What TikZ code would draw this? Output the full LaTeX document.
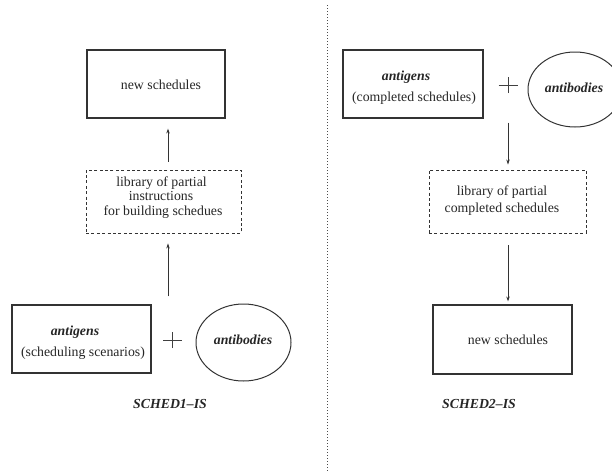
\documentclass[tikz,border=0pt]{standalone}
\usepackage{fontspec}
\setmainfont{Liberation Serif}
\usetikzlibrary{arrows.meta,shapes.geometric}

\tikzset{
  ink/.style={black!85},
  solidbox/.style={draw=black!80, line width=1.1pt, rectangle, inner sep=0pt},
  libbox/.style={draw=black!80, line width=0.9pt, dash pattern=on 3pt off 2.4pt, rectangle, inner sep=0pt},
  bodies/.style={draw=black!80, line width=1pt, ellipse, inner sep=0pt},
  txt/.style={inner sep=0pt, text=black!85, font=\fontsize{13.8}{16}\selectfont},
  btxt/.style={txt, font=\fontsize{13.8}{16}\selectfont\bfseries\itshape},
  flow/.style={draw=black!80, line width=0.8pt, -{Stealth[length=5pt,width=3.4pt]}},
  plusbar/.style={draw=black!75, line width=0.8pt},
  divider/.style={draw=black!70, line width=1pt, dash pattern=on 1.2pt off 1.8pt}
}

\begin{document}
\begin{tikzpicture}[x=1pt,y=-1pt]
  \useasboundingbox (0,0) rectangle (612,471);
  \clip (0,0) rectangle (612,471);

  % divider between the two systems
  \coordinate (dtop) at (327,5);
  \coordinate (dbot) at (327,471);
  \draw[divider] (dtop) -- (dbot);

  % ---------------- SCHED1-IS ----------------
  \node[solidbox, minimum width=138pt, minimum height=68pt] (n1) at (156,84) {};
  \node[txt] (n1t) at (161,85) {new schedules};

  \node[libbox, minimum width=155pt, minimum height=63pt] (lib1) at (163.5,201.5) {};
  \node[txt] (lib1a) at (161.5,183) {library of partial};
  \node[txt] (lib1b) at (161,196) {instructions};
  \node[txt] (lib1c) at (163,212.5) {for building schedues};

  \node[solidbox, minimum width=139pt, minimum height=68pt] (ag1) at (81.5,339) {};
  \node[btxt] (ag1a) at (75,332) {antigens};
  \node[txt] (ag1b) at (83,353) {(scheduling scenarios)};

  \coordinate (p1) at (172.5,340);
  \draw[plusbar] ([xshift=-9.5pt]p1) -- ([xshift=9.5pt]p1);
  \draw[plusbar] ([yshift=-8pt]p1) -- ([yshift=8pt]p1);

  \node[bodies, minimum width=95pt, minimum height=77pt] (ab1) at (243.5,342.5) {};
  \node[btxt] (ab1t) at (243,340) {antibodies};

  \node[btxt] (s1) at (170,404) {SCHED1--IS};

  \coordinate (ax1) at (168,0);
  \draw[flow, shorten <=8pt, shorten >=10pt] (lib1.north -| ax1) -- (n1.south -| ax1);
  \draw[flow, shorten <=8pt, shorten >=10pt] (ag1.north -| ax1) -- (lib1.south -| ax1);

  % ---------------- SCHED2-IS ----------------
  \node[solidbox, minimum width=140pt, minimum height=68pt] (ag2) at (413,84) {};
  \node[btxt] (ag2a) at (406,77) {antigens};
  \node[txt] (ag2b) at (414,98) {(completed schedules)};

  \coordinate (p2) at (508,85);
  \draw[plusbar] ([xshift=-9.5pt]p2) -- ([xshift=9.5pt]p2);
  \draw[plusbar] ([yshift=-8pt]p2) -- ([yshift=8pt]p2);

  \node[bodies, minimum width=94pt, minimum height=75pt] (ab2) at (575,89.5) {};
  \node[btxt] (ab2t) at (574,88) {antibodies};

  \node[libbox, minimum width=157pt, minimum height=63pt] (lib2) at (507.5,201.5) {};
  \node[txt] (lib2a) at (502,192) {library of partial};
  \node[txt] (lib2b) at (502,209) {completed schedules};

  \node[solidbox, minimum width=139pt, minimum height=69pt] (n2) at (502.5,339.5) {};
  \node[txt] (n2t) at (508,340) {new schedules};

  \node[btxt] (s2) at (479,404) {SCHED2--IS};

  \coordinate (ax2) at (508,0);
  \draw[flow, shorten <=4pt, shorten >=5pt] (ag2.south -| ax2) -- (lib2.north -| ax2);
  \draw[flow, shorten <=12pt, shorten >=3pt] (lib2.south -| ax2) -- (n2.north -| ax2);
\end{tikzpicture}
\end{document}
